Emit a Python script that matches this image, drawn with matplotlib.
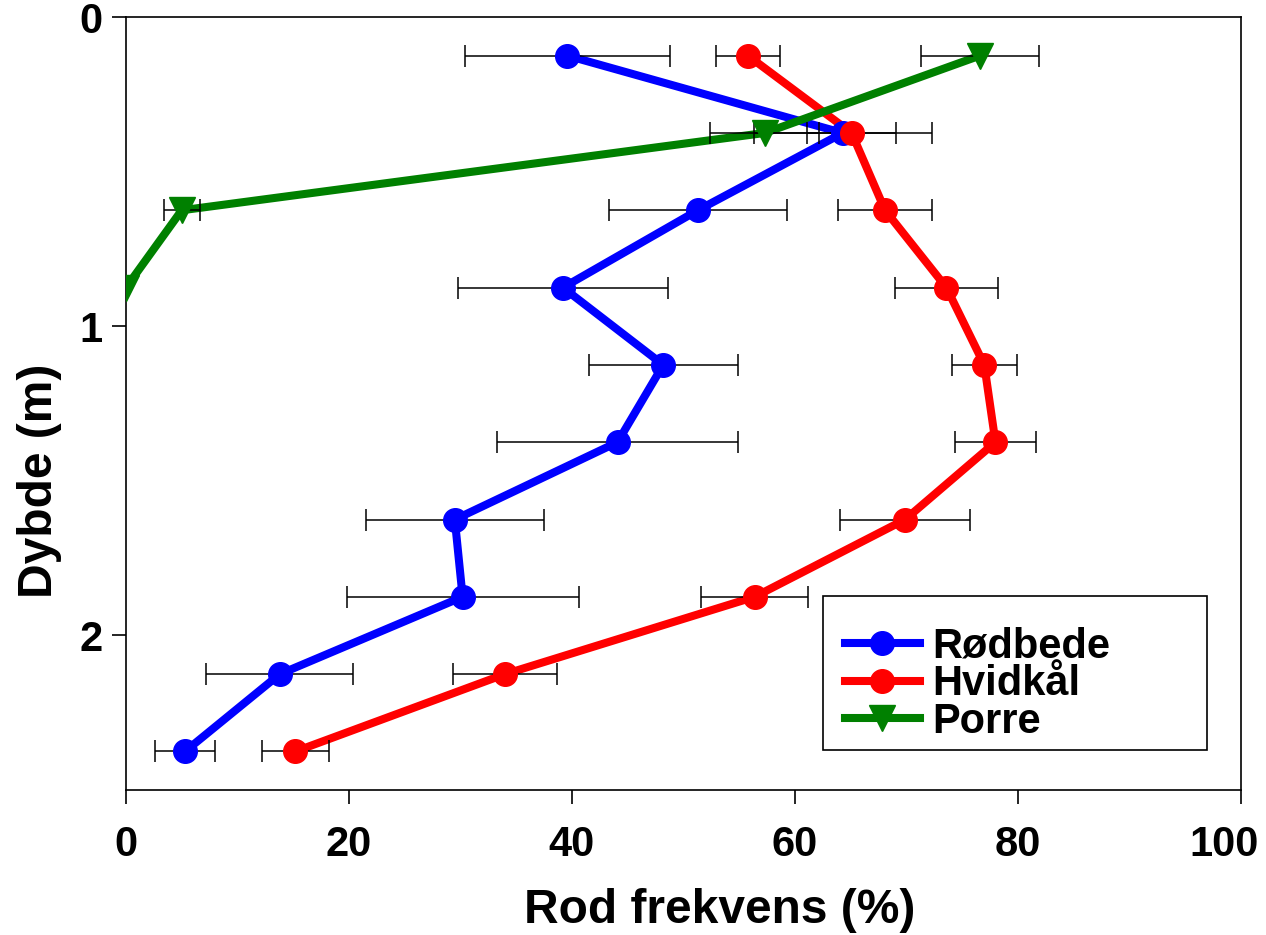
import matplotlib
matplotlib.use("Agg")
import matplotlib.pyplot as plt
import matplotlib.patches as mpatches
from matplotlib.transforms import ScaledTranslation

plt.rcParams["font.family"] = ["Liberation Sans", "DejaVu Sans"]
plt.rcParams["font.weight"] = "bold"

# depths (m)
depth = [0.125, 0.375, 0.625, 0.875, 1.125, 1.375, 1.625, 1.875, 2.125, 2.375]

# Rødbede
roed = [39.6, 64.3, 51.3, 39.2, 48.2, 44.1, 29.5, 30.2, 13.8, 5.3]
roed_err = [9.2, 8.0, 8.0, 9.4, 6.7, 10.8, 8.0, 10.4, 6.6, 2.7]

# Hvidkål
hvid = [55.8, 65.1, 68.1, 73.6, 77.0, 78.0, 69.9, 56.4, 34.0, 15.2]
hvid_err = [2.9, 4.0, 4.2, 4.6, 2.9, 3.6, 5.8, 4.8, 4.7, 3.0]

# Porre
porre_depth = [0.125, 0.375, 0.625, 0.875]
porre = [76.6, 57.3, 5.0, 0.0]
porre_err = [5.3, 4.9, 1.6, 0.0]

fig = plt.figure(figsize=(12.66, 9.35), dpi=100)
ax = fig.add_axes([0.0995, 0.155, 0.8805, 0.8268])

series = [
    ("Rødbede", depth, roed, roed_err, "#0000FF", "o"),
    ("Hvidkål", depth, hvid, hvid_err, "#FF0000", "o"),
    ("Porre", porre_depth, porre, porre_err, "#008000", "v"),
]

handles = []
for label, d, v, e, color, mk in series:
    ms = 17 if mk == "o" else 19
    ax.plot(v, d, color=color, lw=5.8, zorder=2)
    ax.errorbar(v, d, xerr=e, fmt="none", ecolor="black", elinewidth=1.1,
                capsize=8, capthick=1.1, zorder=2.5)
    ax.plot(v, d, linestyle="none", marker=mk, markersize=ms,
            color=color, zorder=3)
    h, = ax.plot([], [], color=color, lw=5.8, marker=mk, markersize=ms,
                 label=label)
    handles.append(h)

# legend frame (drawn separately, box is wider than its contents)
frame = mpatches.Rectangle((0.625, 0.052), 0.345, 0.199, transform=ax.transAxes,
                           facecolor="white", edgecolor="black", lw=1.2, zorder=4)
ax.add_patch(frame)
leg = ax.legend(handles=handles, loc="upper left", bbox_to_anchor=(0.645, 0.212),
                fontsize=30, frameon=False, handlelength=1.8,
                handletextpad=0.3, labelspacing=-0.05, borderpad=0,
                borderaxespad=0)
leg.set_zorder(5)
for t in leg.get_texts():
    t.set_fontweight("bold")

ax.set_xlim(0, 100)
ax.set_ylim(2.5, 0)
ax.set_xticks([0, 20, 40, 60, 80, 100])
ax.set_yticks([0, 1, 2])
ax.tick_params(axis="x", direction="out", length=10, width=1.2,
               labelsize=30, pad=15)
ax.tick_params(axis="y", direction="out", length=10, width=1.2,
               labelsize=30, pad=7)
for lbl in ax.get_xticklabels() + ax.get_yticklabels():
    lbl.set_fontweight("bold")
# nudge the last x label inward so it stays inside the figure
last = ax.get_xticklabels()[-1]
last.set_transform(last.get_transform() + ScaledTranslation(-17 / 100, 0, fig.dpi_scale_trans))
for s in ax.spines.values():
    s.set_linewidth(1.2)

ax.set_xlabel("Rod frekvens (%)", fontsize=34.5, fontweight="bold")
ax.set_ylabel("Dybde (m)", fontsize=34.5, fontweight="bold")
ax.xaxis.set_label_coords(0.533, -0.127)
ax.yaxis.set_label_coords(-0.057, 0.40)

fig.savefig("out.png", dpi=100)
